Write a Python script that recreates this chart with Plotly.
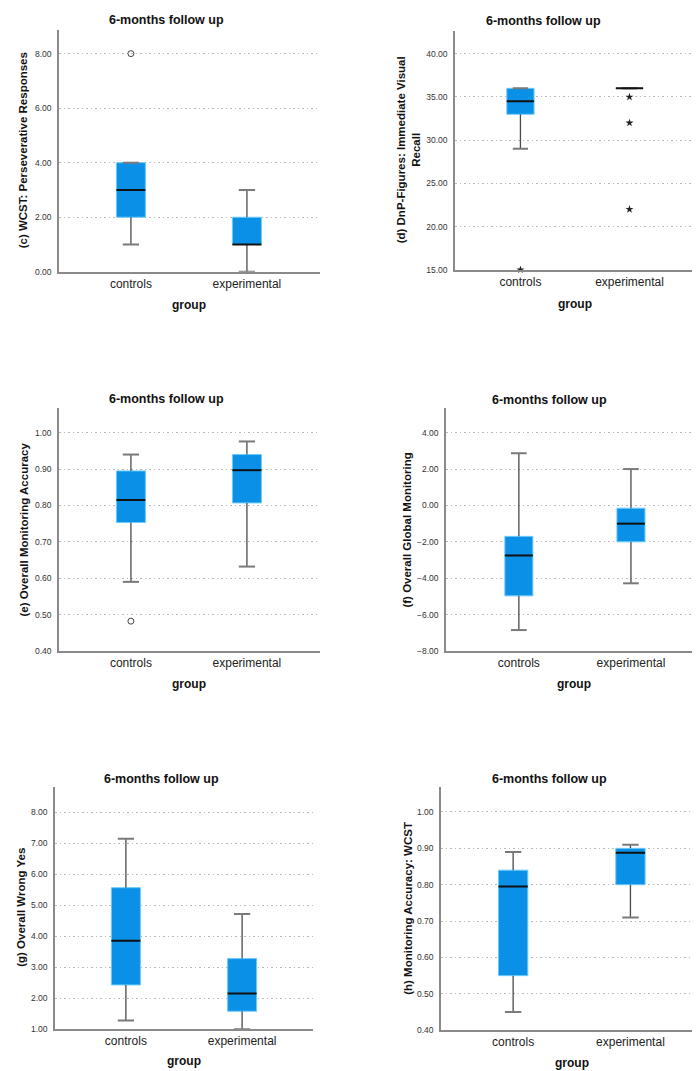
import plotly.graph_objects as go

W, H = 700, 1071

# ---------------- data ----------------
groups = ["controls", "experimental"]
panel_title = "6-months follow up"
x_title = "group"

# (c) WCST: Perseverative Responses
c_low = [1.0, 0.0]
c_q1 = [2.0, 1.0]
c_med = [3.0, 1.0]
c_q3 = [4.0, 2.0]
c_high = [4.0, 3.0]
c_out_grp = [0]
c_out_val = [8.0]
c_ext_grp = []
c_ext_val = []
c_ticks = [0, 2, 4, 6, 8]

# (d) DnP-Figures: Immediate Visual Recall
d_low = [29.0, 36.0]
d_q1 = [33.0, 36.0]
d_med = [34.5, 36.0]
d_q3 = [36.0, 36.0]
d_high = [36.0, 36.0]
d_out_grp = []
d_out_val = []
d_ext_grp = [0, 1, 1, 1]
d_ext_val = [15.0, 35.0, 32.0, 22.0]
d_ticks = [15, 20, 25, 30, 35, 40]

# (e) Overall Monitoring Accuracy
e_low = [0.590, 0.632]
e_q1 = [0.753, 0.807]
e_med = [0.815, 0.897]
e_q3 = [0.895, 0.940]
e_high = [0.940, 0.976]
e_out_grp = [0]
e_out_val = [0.482]
e_ext_grp = []
e_ext_val = []
e_ticks = [0.4, 0.5, 0.6, 0.7, 0.8, 0.9, 1.0]

# (f) Overall Global Monitoring
f_low = [-6.85, -4.28]
f_q1 = [-4.97, -2.00]
f_med = [-2.75, -1.00]
f_q3 = [-1.70, -0.15]
f_high = [2.87, 2.00]
f_out_grp = []
f_out_val = []
f_ext_grp = []
f_ext_val = []
f_ticks = [-8, -6, -4, -2, 0, 2, 4]

# (g) Overall Wrong Yes
g_low = [1.28, 1.00]
g_q1 = [2.43, 1.58]
g_med = [3.86, 2.15]
g_q3 = [5.57, 3.28]
g_high = [7.15, 4.72]
g_out_grp = []
g_out_val = []
g_ext_grp = []
g_ext_val = []
g_ticks = [1, 2, 3, 4, 5, 6, 7, 8]

# (h) Monitoring Accuracy: WCST
h_low = [0.450, 0.710]
h_q1 = [0.550, 0.800]
h_med = [0.795, 0.888]
h_q3 = [0.840, 0.900]
h_high = [0.890, 0.910]
h_out_grp = []
h_out_val = []
h_ext_grp = []
h_ext_val = []
h_ticks = [0.4, 0.5, 0.6, 0.7, 0.8, 0.9, 1.0]

y_titles = [
    "(c) WCST: Perseverative Responses",
    "(d) DnP-Figures: Immediate Visual<br>Recall",
    "(e) Overall Monitoring Accuracy",
    "(f) Overall Global Monitoring",
    "(g) Overall Wrong Yes",
    "(h) Monitoring Accuracy: WCST",
]

stats = [
    (c_low, c_q1, c_med, c_q3, c_high, c_out_grp, c_out_val, c_ext_grp, c_ext_val, c_ticks),
    (d_low, d_q1, d_med, d_q3, d_high, d_out_grp, d_out_val, d_ext_grp, d_ext_val, d_ticks),
    (e_low, e_q1, e_med, e_q3, e_high, e_out_grp, e_out_val, e_ext_grp, e_ext_val, e_ticks),
    (f_low, f_q1, f_med, f_q3, f_high, f_out_grp, f_out_val, f_ext_grp, f_ext_val, f_ticks),
    (g_low, g_q1, g_med, g_q3, g_high, g_out_grp, g_out_val, g_ext_grp, g_ext_val, g_ticks),
    (h_low, h_q1, h_med, h_q3, h_high, h_out_grp, h_out_val, h_ext_grp, h_ext_val, h_ticks),
]

# ---------------- layout geometry (pixels) ----------------
# plot area: x0, x1, y0(top), y1(bottom)
areas = [
    (51, 312, 22, 265),
    (447, 688, 23, 263),
    (51, 312, 402, 646),
    (438, 693, 402, 646),
    (47, 305, 783, 1026),
    (433, 694, 783, 1027),
]
x_ranges = [(-0.62, 1.63), (-0.60, 1.61), (-0.62, 1.63), (-0.65, 1.625), (-0.61, 1.61), (-0.615, 1.61)]
y_ranges = [(0, 8.87), (15, 42.65), (0.4, 1.0676), (-8, 5.35), (1, 8.81), (0.4, 1.0677)]
title_pos = [(158, 12), (535, 13), (158, 393), (541, 394), (153, 775), (541, 775)]
ytitle_pos = [(15, 143), (400, 143), (16, 524), (399, 524), (13, 904), (400, 905)]
group_pos = [(181, 298), (567, 297), (181, 679), (566, 679), (176, 1058), (564, 1060)]

BOX_FILL = "#0A90E6"
BOX_EDGE = "#6CCBFA"
WHISK = "#4a4a4a"
CAP = "#7a7a7a"
FONT = "Liberation Sans, Arial, sans-serif"

BW = 0.25   # box width in category units
CW = 0.07   # half cap width

fig = go.Figure()
layout = dict(
    width=W, height=H, margin=dict(l=0, r=0, t=0, b=0),
    paper_bgcolor="white", plot_bgcolor="white", showlegend=False,
    font=dict(family=FONT, color="#222"),
)
annotations = []

for i, (st, area) in enumerate(zip(stats, areas)):
    low, q1, med, q3, high, og, ov, eg, ev, ticks = st
    k = i + 1
    xa = "x" if k == 1 else f"x{k}"
    ya = "y" if k == 1 else f"y{k}"
    x0, x1, y0, y1 = area

    for g in range(len(groups)):
        # box body
        fig.add_trace(go.Scatter(
            x=[g - BW / 2, g + BW / 2, g + BW / 2, g - BW / 2, g - BW / 2],
            y=[q1[g], q1[g], q3[g], q3[g], q1[g]],
            fill="toself", fillcolor=BOX_FILL, mode="lines",
            line=dict(color=BOX_EDGE, width=1), hoverinfo="skip",
            xaxis=xa, yaxis=ya))
        # whiskers
        fig.add_trace(go.Scatter(
            x=[g, g, None, g, g],
            y=[low[g], q1[g], None, q3[g], high[g]],
            mode="lines", line=dict(color=WHISK, width=1.3), hoverinfo="skip",
            xaxis=xa, yaxis=ya))
        # caps
        fig.add_trace(go.Scatter(
            x=[g - CW, g + CW, None, g - CW, g + CW],
            y=[low[g], low[g], None, high[g], high[g]],
            mode="lines", line=dict(color=CAP, width=2), hoverinfo="skip",
            cliponaxis=False, xaxis=xa, yaxis=ya))
        # median
        fig.add_trace(go.Scatter(
            x=[g - BW / 2, g + BW / 2], y=[med[g], med[g]],
            mode="lines", line=dict(color="#111", width=2), hoverinfo="skip",
            xaxis=xa, yaxis=ya))

    if og:
        fig.add_trace(go.Scatter(
            x=og, y=ov, mode="markers", cliponaxis=False,
            marker=dict(symbol="circle-open", size=6, color="#444", line=dict(width=1)),
            xaxis=xa, yaxis=ya))
    if eg:
        fig.add_trace(go.Scatter(
            x=eg, y=ev, mode="markers", cliponaxis=False,
            marker=dict(symbol="star", size=6, color="#222", line=dict(width=0)),
            xaxis=xa, yaxis=ya))

    layout["xaxis" if k == 1 else f"xaxis{k}"] = dict(
        domain=[x0 / W, x1 / W], range=list(x_ranges[i]),
        tickvals=list(range(len(groups))), ticktext=groups,
        showline=True, linecolor="#8a8a8a", linewidth=1.5,
        showgrid=False, zeroline=False, ticks="",
        tickfont=dict(size=12, color="#222", family=FONT),
        anchor=ya, fixedrange=True)
    layout["yaxis" if k == 1 else f"yaxis{k}"] = dict(
        domain=[1 - y1 / H, 1 - y0 / H], range=list(y_ranges[i]),
        tickvals=ticks, tickformat=".2f",
        showline=True, linecolor="#8a8a8a", linewidth=1.5,
        showgrid=True, gridcolor="#b8b8b8", griddash="1.5px,3px", gridwidth=1,
        zeroline=False, ticks="", ticklabelstandoff=4,
        tickfont=dict(size=8.5, color="#333", family=FONT),
        anchor=xa, fixedrange=True)

    tx, ty = title_pos[i]
    annotations.append(dict(
        text=f"<b>{panel_title}</b>", x=tx / W, y=1 - ty / H, xref="paper", yref="paper",
        xanchor="center", yanchor="middle", showarrow=False,
        font=dict(size=12.5, color="#111", family=FONT)))
    yx, yy = ytitle_pos[i]
    annotations.append(dict(
        text=f"<b>{y_titles[i]}</b>", x=yx / W, y=1 - yy / H, xref="paper", yref="paper",
        xanchor="center", yanchor="middle", showarrow=False, textangle=-90,
        font=dict(size=11.5, color="#111", family=FONT)))
    gx, gy = group_pos[i]
    annotations.append(dict(
        text=f"<b>{x_title}</b>", x=gx / W, y=1 - gy / H, xref="paper", yref="paper",
        xanchor="center", yanchor="middle", showarrow=False,
        font=dict(size=12, color="#111", family=FONT)))

layout["annotations"] = annotations
fig.update_layout(**layout)
fig.write_html("out.html")
